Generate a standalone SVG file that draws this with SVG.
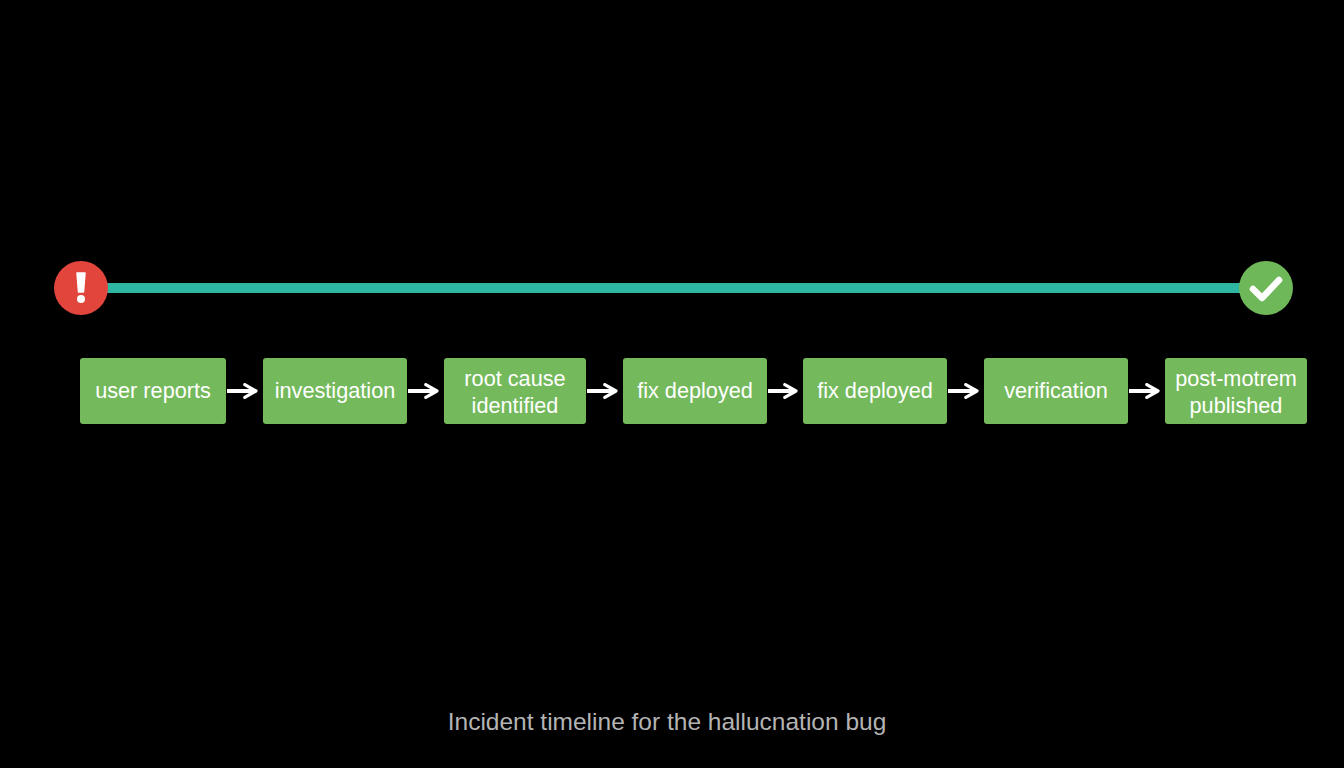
<svg xmlns="http://www.w3.org/2000/svg" width="1344" height="768" viewBox="0 0 1344 768">
<style>
.box{fill:#74b95c}
.lbl{font-family:"Liberation Sans",Arial,sans-serif;font-size:21.7px;fill:#ffffff;text-anchor:middle}
.arr{stroke:#ffffff;stroke-width:4;fill:none}
.ttl{font-family:"Liberation Sans",Arial,sans-serif;font-size:24.5px;fill:#b4b4b4;text-anchor:middle}
</style>
<defs>
<marker id="ah" viewBox="0 0 10 10" refX="8" refY="5" markerWidth="4" markerHeight="4" markerUnits="strokeWidth" orient="auto">
<path d="M1,1 L8,5 L1,9" fill="none" stroke="#ffffff" stroke-width="2" stroke-linecap="round" stroke-linejoin="round"/>
</marker>
</defs>
<rect width="1344" height="768" fill="#000000"/>
<g id="timeline">
<line x1="100" y1="288" x2="1250" y2="288" stroke="#2fb6a2" stroke-width="10"/>
</g>
<g id="start">
<circle cx="81" cy="288" r="27" fill="#e2453c"/>
<path d="M77,273 L85,273 L83.5,292 L78.5,292 Z" fill="#ffffff" stroke="#ffffff" stroke-width="1.5" stroke-linejoin="round"/>
<circle cx="81" cy="299" r="4" fill="#ffffff"/>
</g>
<g id="end">
<circle cx="1266" cy="288" r="27" fill="#6fb85a"/>
<path d="M1253,289 L1262,298 L1279,280" fill="none" stroke="#ffffff" stroke-width="6.5" stroke-linecap="round" stroke-linejoin="round"/>
</g>
<g id="connectors">
<line class="arr" x1="227" y1="391" x2="256" y2="391" marker-end="url(#ah)"/>
<line class="arr" x1="408" y1="391" x2="437" y2="391" marker-end="url(#ah)"/>
<line class="arr" x1="587" y1="391" x2="616" y2="391" marker-end="url(#ah)"/>
<line class="arr" x1="768" y1="391" x2="796" y2="391" marker-end="url(#ah)"/>
<line class="arr" x1="948" y1="391" x2="977" y2="391" marker-end="url(#ah)"/>
<line class="arr" x1="1129" y1="391" x2="1158" y2="391" marker-end="url(#ah)"/>
</g>
<g id="n1"><rect class="box" x="80" y="358" width="146" height="66" rx="3"/><text class="lbl" x="153" y="398">user reports</text></g>
<g id="n2"><rect class="box" x="263" y="358" width="144" height="66" rx="3"/><text class="lbl" x="335" y="398">investigation</text></g>
<g id="n3"><rect class="box" x="444" y="358" width="142" height="66" rx="3"/><text class="lbl" x="515" y="386">root cause</text><text class="lbl" x="515" y="413">identified</text></g>
<g id="n4"><rect class="box" x="623" y="358" width="144" height="66" rx="3"/><text class="lbl" x="695" y="398">fix deployed</text></g>
<g id="n5"><rect class="box" x="803" y="358" width="144" height="66" rx="3"/><text class="lbl" x="875" y="398">fix deployed</text></g>
<g id="n6"><rect class="box" x="984" y="358" width="144" height="66" rx="3"/><text class="lbl" x="1056" y="398">verification</text></g>
<g id="n7"><rect class="box" x="1165" y="358" width="142" height="66" rx="3"/><text class="lbl" x="1236" y="386">post-motrem</text><text class="lbl" x="1236" y="413">published</text></g>
<text class="ttl" x="667" y="730">Incident timeline for the hallucnation bug</text>
</svg>
